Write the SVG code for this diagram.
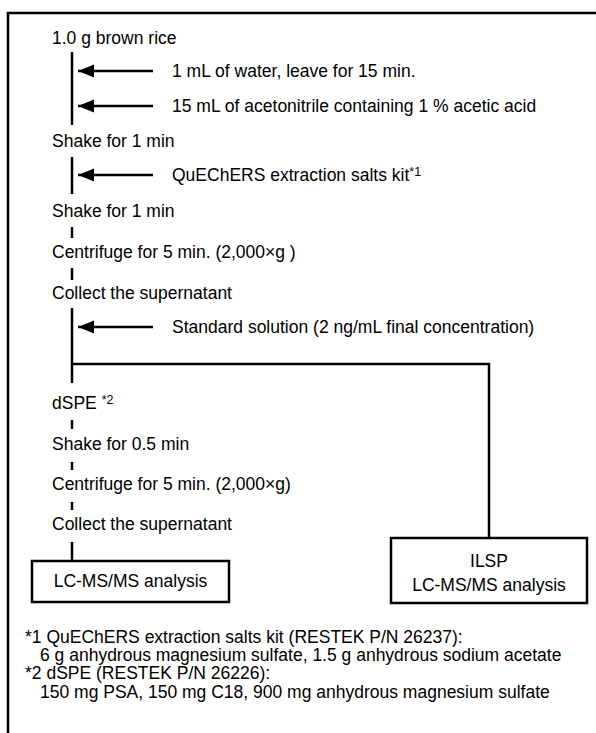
<svg xmlns="http://www.w3.org/2000/svg" width="596" height="733" viewBox="0 0 596 733">
<style>
text{font-family:"Liberation Sans",Arial,sans-serif;font-size:17.5px;fill:#000}
.ln{stroke:#000;stroke-width:2.5;fill:none}
.box{stroke:#000;stroke-width:2.5;fill:#fff}
.sup{font-size:12.5px}
.mid{text-anchor:middle}
</style>
<defs>
<marker id="ah" markerUnits="userSpaceOnUse" markerWidth="18" markerHeight="14" refX="16" refY="6.5" orient="auto">
<path d="M0,0 L16,6.5 L0,13 Z" fill="#000"/>
</marker>
</defs>
<rect width="596" height="733" fill="#fff"/>
<path class="ln" d="M8,740 V13 H600"/>
<g id="connectors">
<path class="ln" d="M72,52 V125"/>
<path class="ln" d="M153,71 H78" marker-end="url(#ah)"/>
<path class="ln" d="M153,106 H78" marker-end="url(#ah)"/>
<path class="ln" d="M72,157 V194"/>
<path class="ln" d="M153,175 H78" marker-end="url(#ah)"/>
<path class="ln" d="M72,227 V238"/>
<path class="ln" d="M72,268 V280"/>
<path class="ln" d="M72,308 V383"/>
<path class="ln" d="M153,327 H78" marker-end="url(#ah)"/>
<path class="ln" d="M72,364 H489 V538"/>
<path class="ln" d="M72,420 V429"/>
<path class="ln" d="M72,462 V470"/>
<path class="ln" d="M72,502 V510"/>
<path class="ln" d="M72,542 V561"/>
</g>
<g id="steps">
<text x="52" y="44">1.0 g brown rice</text>
<text x="172" y="77">1 mL of water, leave for 15 min.</text>
<text x="172" y="112">15 mL of acetonitrile containing 1 % acetic acid</text>
<text x="52" y="147">Shake for 1 min</text>
<text x="172" y="181">QuEChERS extraction salts kit<tspan class="sup" dy="-5">*1</tspan></text>
<text x="52" y="217">Shake for 1 min</text>
<text x="52" y="258">Centrifuge for 5 min. (2,000×g )</text>
<text x="52" y="299">Collect the supernatant</text>
<text x="172" y="333">Standard solution (2 ng/mL final concentration)</text>
<text x="52" y="409">dSPE <tspan class="sup" dy="-5">*2</tspan></text>
<text x="52" y="450">Shake for 0.5 min</text>
<text x="52" y="490">Centrifuge for 5 min. (2,000×g)</text>
<text x="52" y="530">Collect the supernatant</text>
</g>
<g id="lcms">
<rect class="box" x="32" y="561" width="197" height="41"/>
<text class="mid" x="130.5" y="587">LC-MS/MS analysis</text>
</g>
<g id="ilsp">
<rect class="box" x="391" y="538" width="196" height="65"/>
<text class="mid" x="489" y="567">ILSP</text>
<text class="mid" x="489" y="591">LC-MS/MS analysis</text>
</g>
<g id="notes">
<text x="25" y="643">*1 QuEChERS extraction salts kit (RESTEK P/N 26237):</text>
<text x="40" y="661">6 g anhydrous magnesium sulfate, 1.5 g anhydrous sodium acetate</text>
<text x="25" y="679">*2 dSPE (RESTEK P/N 26226):</text>
<text x="40" y="698">150 mg PSA, 150 mg C18, 900 mg anhydrous magnesium sulfate</text>
</g>
</svg>
